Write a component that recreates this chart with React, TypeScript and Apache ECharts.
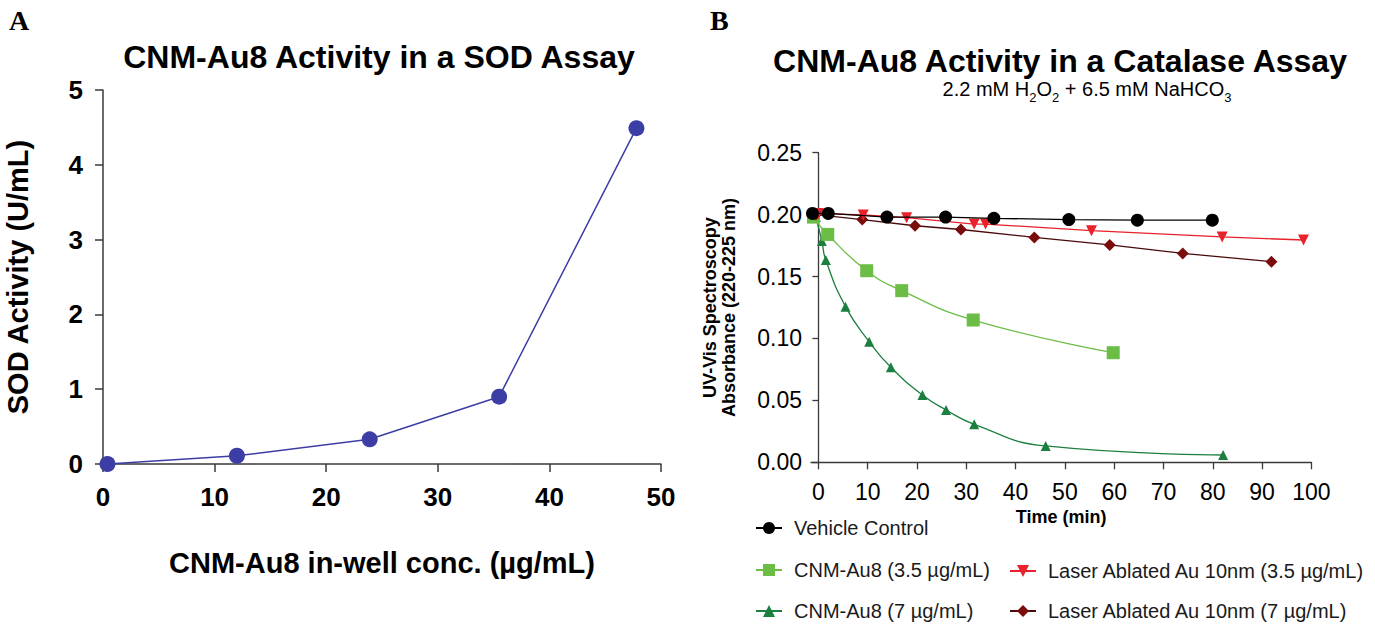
import React, { useEffect, useRef } from "react";
import * as echarts from "echarts";

// ---------- Panel A: SOD assay ----------
const sodConc = [0.4, 12.0, 23.9, 35.5, 47.8];
const sodActivity = [0.0, 0.11, 0.33, 0.9, 4.49];
const sodXTicks = [0, 10, 20, 30, 40, 50];

// ---------- Panel B: Catalase assay ----------
const vehicleTime = [-1.2, 2.0, 13.9, 25.8, 35.6, 50.8, 64.7, 79.9];
const vehicleAbs = [0.201, 0.201, 0.198, 0.198, 0.197, 0.196, 0.1955, 0.1955];

const cnm35Time = [-1.0, 1.9, 9.8, 16.9, 31.4, 59.8];
const cnm35Abs = [0.198, 0.184, 0.1547, 0.1386, 0.1149, 0.0885];

const cnm7Time = [-0.5, 0.7, 1.5, 5.5, 10.3, 14.7, 21.1, 25.9, 31.6, 46.1, 82.1];
const cnm7Abs = [0.198, 0.1787, 0.1633, 0.1257, 0.0974, 0.0767, 0.0544, 0.0422, 0.0307, 0.0132, 0.0059];

const laser35Time = [0.0, 9.1, 17.9, 31.6, 33.9, 55.4, 81.9, 98.4];
const laser35Abs = [0.201, 0.1997, 0.1975, 0.1924, 0.1924, 0.187, 0.182, 0.1795];

const laser7Time = [-0.5, 8.9, 19.6, 28.9, 43.8, 59.1, 73.9, 91.9];
const laser7Abs = [0.2, 0.196, 0.191, 0.188, 0.1816, 0.1755, 0.1687, 0.162];

const timeTicks = [0, 10, 20, 30, 40, 50, 60, 70, 80, 90, 100];

const seriesNames = [
  "Vehicle Control",
  "CNM-Au8 (3.5 µg/mL)",
  "CNM-Au8 (7 µg/mL)",
  "Laser Ablated Au 10nm (3.5 µg/mL)",
  "Laser Ablated Au 10nm (7 µg/mL)",
];

const zip = (xs: number[], ys: number[]) => xs.map((x, i) => [x, ys[i]]);

const FONT = '"Liberation Sans", Arial, Helvetica, sans-serif';
const SERIF = '"Liberation Serif", "Times New Roman", serif';
const AXIS = "#3a3a3a";

export default function App() {
  const ref = useRef<HTMLDivElement>(null);

  useEffect(() => {
    document.body.style.margin = "0";
    if (!ref.current) return;
    const chart = echarts.init(ref.current, undefined, { renderer: "svg" });

    const option: any = {
      animation: false,
      backgroundColor: "#ffffff",
      title: [
        { text: "A", left: 4, top: 1, textStyle: { fontFamily: SERIF, fontWeight: "bold", fontSize: 28, color: "#000" } },
        { text: "B", left: 705, top: 1, textStyle: { fontFamily: SERIF, fontWeight: "bold", fontSize: 28, color: "#000" } },
        {
          text: "CNM-Au8 Activity in a SOD Assay",
          left: 374,
          textAlign: "center",
          top: 36,
          textStyle: { fontFamily: FONT, fontWeight: "bold", fontSize: 32, color: "#000" },
        },
        {
          text: "CNM-Au8 Activity in a Catalase Assay",
          left: 1055,
          textAlign: "center",
          top: 40,
          textStyle: { fontFamily: FONT, fontWeight: "bold", fontSize: 32, color: "#000" },
        },
        {
          text: "{n|2.2 mM H}{s|2}{n|O}{s|2}{n| + 6.5 mM NaHCO}{s|3}",
          left: 1082,
          textAlign: "center",
          top: 74,
          textStyle: {
            fontWeight: "normal",
            rich: {
              n: { fontFamily: FONT, fontWeight: "normal", fontSize: 20, color: "#000", lineHeight: 20, verticalAlign: "top" },
              s: { fontFamily: FONT, fontWeight: "normal", fontSize: 13, color: "#000", lineHeight: 25, verticalAlign: "bottom" },
            },
          },
        },
      ],
      grid: [
        { left: 103, top: 90, width: 558, height: 374 },
        { left: 811, top: 152.7, width: 500.4, height: 309.6 },
      ],
      xAxis: [
        {
          type: "value",
          gridIndex: 0,
          min: 0,
          max: 50,
          interval: 10,
          name: "CNM-Au8 in-well conc. (µg/mL)",
          nameLocation: "middle",
          nameGap: 84,
          nameTextStyle: { fontFamily: FONT, fontWeight: "bold", fontSize: 29, color: "#000" },
          axisLine: { show: true, onZero: false, lineStyle: { color: AXIS, width: 1.5 } },
          axisTick: { show: true, length: 8, lineStyle: { color: AXIS, width: 1.5 } },
          axisLabel: {
            customValues: sodXTicks,
            fontFamily: FONT,
            fontWeight: "bold",
            fontSize: 26,
            color: "#000",
            margin: 20,
          },
          splitLine: { show: false },
        },
        {
          type: "value",
          gridIndex: 1,
          min: -1.5,
          max: 100,
          name: "Time (min)",
          nameLocation: "middle",
          nameGap: 46,
          nameTextStyle: { fontFamily: FONT, fontWeight: "bold", fontSize: 18, color: "#000" },
          axisLine: { show: true, onZero: false, lineStyle: { color: AXIS, width: 1.3 } },
          axisTick: { show: true, length: 7, customValues: timeTicks, lineStyle: { color: AXIS, width: 1.3 } },
          axisLabel: {
            customValues: timeTicks,
            fontFamily: FONT,
            fontSize: 23,
            color: "#000",
            margin: 18,
          },
          splitLine: { show: false },
        },
      ],
      yAxis: [
        {
          type: "value",
          gridIndex: 0,
          min: 0,
          max: 5,
          interval: 1,
          name: "SOD Activity (U/mL)",
          nameLocation: "middle",
          nameGap: 71,
          nameTextStyle: { fontFamily: FONT, fontWeight: "bold", fontSize: 29, color: "#000" },
          axisLine: { show: true, onZero: false, lineStyle: { color: AXIS, width: 1.5 } },
          axisTick: { show: true, length: 8, lineStyle: { color: AXIS, width: 1.5 } },
          axisLabel: { fontFamily: FONT, fontWeight: "bold", fontSize: 26, color: "#000", margin: 20 },
          splitLine: { show: false },
        },
        {
          type: "value",
          gridIndex: 1,
          min: 0,
          max: 0.25,
          interval: 0.05,
          name: "UV-Vis Spectroscopy\nAbsorbance (220-225 nm)",
          nameLocation: "middle",
          nameGap: 73,
          nameTextStyle: { fontFamily: FONT, fontWeight: "bold", fontSize: 18, lineHeight: 19, color: "#000" },
          axisLine: { show: true, onZero: true, lineStyle: { color: AXIS, width: 1.3 } },
          axisTick: { show: true, length: 6, lineStyle: { color: AXIS, width: 1.3 } },
          axisLabel: {
            fontFamily: FONT,
            fontSize: 23,
            color: "#000",
            margin: 9,
            formatter: (v: number) => v.toFixed(2),
          },
          splitLine: { show: false },
        },
      ],
      legend: [
        {
          data: [seriesNames[0]],
          left: 755,
          top: 518,
          orient: "vertical",
          padding: 0,
          itemWidth: 26,
          itemHeight: 15,
          selectedMode: false,
          textStyle: { fontFamily: FONT, fontSize: 20, color: "#1a1a1a", padding: [0, 0, 0, 7] },
        },
        {
          data: [seriesNames[1], seriesNames[2]],
          left: 755,
          top: 560,
          orient: "vertical",
          padding: 0,
          itemGap: 21,
          itemWidth: 26,
          itemHeight: 15,
          selectedMode: false,
          textStyle: { fontFamily: FONT, fontSize: 20, color: "#1a1a1a", padding: [0, 0, 0, 7] },
        },
        {
          data: [seriesNames[3], seriesNames[4]],
          left: 1009,
          top: 561,
          orient: "vertical",
          padding: 0,
          itemGap: 20,
          itemWidth: 26,
          itemHeight: 15,
          selectedMode: false,
          textStyle: { fontFamily: FONT, fontSize: 20, color: "#1a1a1a", padding: [0, 0, 0, 7] },
        },
      ],
      series: [
        {
          type: "line",
          name: "SOD Activity",
          xAxisIndex: 0,
          yAxisIndex: 0,
          data: zip(sodConc, sodActivity),
          symbol: "circle",
          symbolSize: 16,
          clip: false,
          lineStyle: { color: "#3d3da6", width: 1.5 },
          itemStyle: { color: "#3d3da6" },
          z: 3,
        },
        {
          type: "line",
          name: seriesNames[2],
          xAxisIndex: 1,
          yAxisIndex: 1,
          data: zip(cnm7Time, cnm7Abs),
          symbol: "triangle",
          symbolSize: 10,
          smooth: true,
          clip: false,
          lineStyle: { color: "#1b7f3f", width: 1.3 },
          itemStyle: { color: "#1b7f3f" },
          z: 2,
        },
        {
          type: "line",
          name: seriesNames[1],
          xAxisIndex: 1,
          yAxisIndex: 1,
          data: zip(cnm35Time, cnm35Abs),
          symbol: "rect",
          symbolSize: 13,
          smooth: true,
          clip: false,
          lineStyle: { color: "#6cbd45", width: 1.3 },
          itemStyle: { color: "#6cbd45" },
          z: 3,
        },
        {
          type: "line",
          name: seriesNames[4],
          xAxisIndex: 1,
          yAxisIndex: 1,
          data: zip(laser7Time, laser7Abs),
          symbol: "diamond",
          symbolSize: 12,
          clip: false,
          lineStyle: { color: "#4a0a0a", width: 1.3 },
          itemStyle: { color: "#7a0c0c" },
          z: 4,
        },
        {
          type: "line",
          name: seriesNames[3],
          xAxisIndex: 1,
          yAxisIndex: 1,
          data: zip(laser35Time, laser35Abs),
          symbol: "triangle",
          symbolRotate: 180,
          symbolSize: 11,
          clip: false,
          lineStyle: { color: "#e8212a", width: 1.3 },
          itemStyle: { color: "#e8212a" },
          z: 5,
        },
        {
          type: "line",
          name: seriesNames[0],
          xAxisIndex: 1,
          yAxisIndex: 1,
          data: zip(vehicleTime, vehicleAbs),
          symbol: "circle",
          symbolSize: 13,
          clip: false,
          lineStyle: { color: "#000000", width: 1.3 },
          itemStyle: { color: "#000000" },
          z: 6,
        },
      ],
    };

    chart.setOption(option);
    return () => chart.dispose();
  }, []);

  return <div ref={ref} style={{ width: 1375, height: 627 }} />;
}
